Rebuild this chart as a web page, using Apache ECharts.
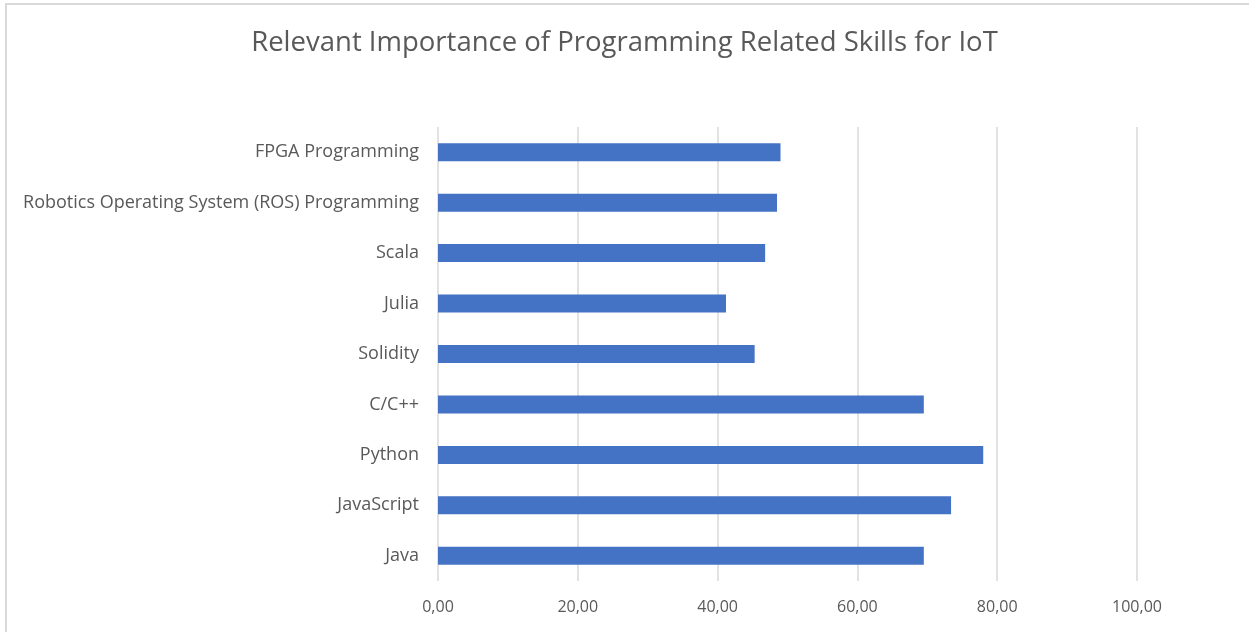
<!DOCTYPE html>
<html>
  <head>
    <meta charset="utf-8">
    <script src="https://cdn.jsdelivr.net/npm/echarts@6/dist/echarts.min.js"></script>
    <style>
      html, body { margin: 0; padding: 0; background: #fff; overflow: hidden; }
      .frame { position: absolute; left: 5px; top: 3px; width: 1300px; height: 700px; border: 2px solid #d9d9d9; box-sizing: border-box; }
      .chart { position: absolute; left: 0; top: 0; width: 1249px; height: 632px; }
    </style>
  </head>
  <body>
    <div class="frame"></div>
    <div class="chart"></div>
    <script>
      // categories bottom -> top (category axis on y starts at bottom)
      var skills = ["Java", "JavaScript", "Python", "C/C++", "Solidity", "Julia", "Scala",
                    "Robotics Operating System (ROS) Programming", "FPGA Programming"];
      var importance = [69.5, 73.4, 78.0, 69.5, 45.3, 41.2, 46.8, 48.5, 49.0];
      var titleText = "Relevant Importance of Programming Related Skills for IoT";

      var canvas = document.getElementsByClassName("chart")[0];
      var chart = echarts.init(canvas, null, { renderer: 'canvas' });
      var textColor = "#595959";
      var font = "'Open Sans', sans-serif";

      chart.setOption({
        animation: false,
        title: {
          text: titleText,
          left: 'center',
          top: 24,
          textStyle: { fontFamily: font, fontSize: 27.5, fontWeight: 'normal', color: textColor }
        },
        grid: { left: 438, right: 112, top: 127, bottom: 51, containLabel: false },
        xAxis: {
          type: 'value',
          min: 0,
          max: 100,
          interval: 20,
          axisLine: { show: false },
          axisTick: { show: false },
          splitLine: { lineStyle: { color: '#d9d9d9', width: 1.5 } },
          axisLabel: {
            margin: 18,
            color: textColor,
            fontFamily: font,
            fontSize: 16,
            formatter: function (v) { return v.toFixed(2).replace('.', ','); }
          }
        },
        yAxis: {
          type: 'category',
          data: skills,
          axisLine: { show: false },
          axisTick: { show: false },
          axisLabel: { margin: 19, color: textColor, fontFamily: font, fontSize: 18 }
        },
        series: [{
          type: 'bar',
          data: importance,
          barWidth: 18,
          itemStyle: { color: '#4472C4' }
        }]
      });
    </script>
  </body>
</html>
